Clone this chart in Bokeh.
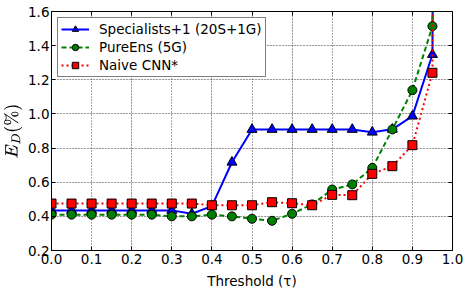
from bokeh.plotting import figure
from bokeh.models import (LinearAxis, Range1d, FixedTicker, Legend, LegendItem, TeX,
                          NumeralTickFormatter, Grid)
from bokeh.embed import file_html
from bokeh.resources import INLINE

thresholds = [0.0, 0.05, 0.1, 0.15, 0.2, 0.25, 0.3, 0.35, 0.4, 0.45, 0.5, 0.55,
              0.6, 0.65, 0.7, 0.75, 0.8, 0.85, 0.9, 0.95, 1.0]
specialists = [0.435, 0.435, 0.435, 0.435, 0.435, 0.435, 0.435, 0.415, 0.46, 0.717,
               0.909, 0.909, 0.909, 0.909, 0.909, 0.909, 0.893, 0.91, 0.987, 1.348, 30.0]
pureens = [0.41, 0.41, 0.41, 0.41, 0.41, 0.41, 0.40, 0.40, 0.41, 0.40, 0.386, 0.374,
           0.415, 0.47, 0.557, 0.587, 0.684, 0.909, 1.139, 1.514, 30.0]
naive = [0.475, 0.475, 0.475, 0.475, 0.475, 0.475, 0.475, 0.475, 0.465, 0.465, 0.465,
         0.483, 0.477, 0.465, 0.526, 0.524, 0.649, 0.694, 0.817, 1.241, 30.0]
labels = ["Specialists+1 (20S+1G)", "PureEns (5G)", "Naive CNN*"]
xticks = [0.0, 0.1, 0.2, 0.3, 0.4, 0.5, 0.6, 0.7, 0.8, 0.9, 1.0]
yticks = [0.2, 0.4, 0.6, 0.8, 1.0, 1.2, 1.4, 1.6]

FONT = "DejaVu Sans"
FS = "13.5px"

p = figure(output_backend="svg", toolbar_location=None,
           frame_width=401, frame_height=239,
           x_range=Range1d(0, 1), y_range=Range1d(0.2, 1.6),
           min_border_left=45, min_border_top=11, min_border_right=12, min_border_bottom=30,
           x_axis_location=None, y_axis_location=None)
p.outline_line_color = "black"
p.outline_line_width = 1
p.background_fill_color = "white"
p.border_fill_color = "white"

xt = FixedTicker(ticks=xticks)
yt = FixedTicker(ticks=yticks)
fmt = NumeralTickFormatter(format="0.0")

bottom = LinearAxis(ticker=xt, formatter=fmt, axis_label="Threshold (τ)")
left = LinearAxis(ticker=yt, formatter=fmt, axis_label=TeX(text=r"E_D(\%)"))
top = LinearAxis(ticker=xt)
right = LinearAxis(ticker=yt)
for ax in (bottom, left, top, right):
    ax.major_tick_in = 4
    ax.major_tick_out = 0
    ax.minor_tick_line_color = None
    ax.axis_line_color = "black"
    ax.major_tick_line_color = "black"
    ax.major_label_text_font = FONT
    ax.major_label_text_font_size = FS
    ax.major_label_text_color = "black"
    ax.axis_label_text_font = FONT
    ax.axis_label_text_font_size = FS
    ax.axis_label_text_font_style = "normal"
    ax.axis_label_text_color = "black"
top.major_label_overrides = {t: "" for t in xticks}
right.major_label_overrides = {t: "" for t in yticks}
for ax in (top, right):
    ax.major_label_standoff = 0
bottom.major_label_standoff = 3
bottom.axis_label_standoff = 6
left.major_label_standoff = 2
left.axis_label_standoff = 3
p.add_layout(bottom, "below")
p.add_layout(left, "left")
p.add_layout(top, "above")
p.add_layout(right, "right")

for dim, tk in ((0, xt), (1, yt)):
    g = Grid(dimension=dim, ticker=tk)
    g.grid_line_color = "#555555"
    g.grid_line_dash = "1 2"
    g.grid_line_width = 1
    p.add_layout(g)

l1 = p.line(thresholds, specialists, line_color="#0000ff", line_width=2)
m1 = p.scatter(thresholds, specialists, marker="triangle", size=10,
               fill_color="#0000ff", line_color="black", line_width=1)
l2 = p.line(thresholds, pureens, line_color="#008000", line_width=2, line_dash="5 3")
m2 = p.scatter(thresholds, pureens, marker="circle", size=9,
               fill_color="#008000", line_color="black", line_width=1)
l3 = p.line(thresholds, naive, line_color="#ff0000", line_width=2, line_dash="2 3")
m3 = p.scatter(thresholds, naive, marker="square", size=9,
               fill_color="#ff0000", line_color="black", line_width=1)

legend = Legend(items=[LegendItem(label=labels[0], renderers=[l1, m1]),
                       LegendItem(label=labels[1], renderers=[l2, m2]),
                       LegendItem(label=labels[2], renderers=[l3, m3])],
                location="top_left")
legend.margin = 6
legend.padding = 3
legend.spacing = 2
legend.glyph_width = 28
legend.glyph_height = 16
legend.label_height = 16
legend.label_standoff = 10
legend.label_text_font = FONT
legend.label_text_font_size = FS
legend.label_text_color = "black"
legend.border_line_color = "black"
legend.border_line_width = 1
legend.background_fill_alpha = 1
p.add_layout(legend, "center")

open("out.html", "w").write(file_html(p, INLINE))
